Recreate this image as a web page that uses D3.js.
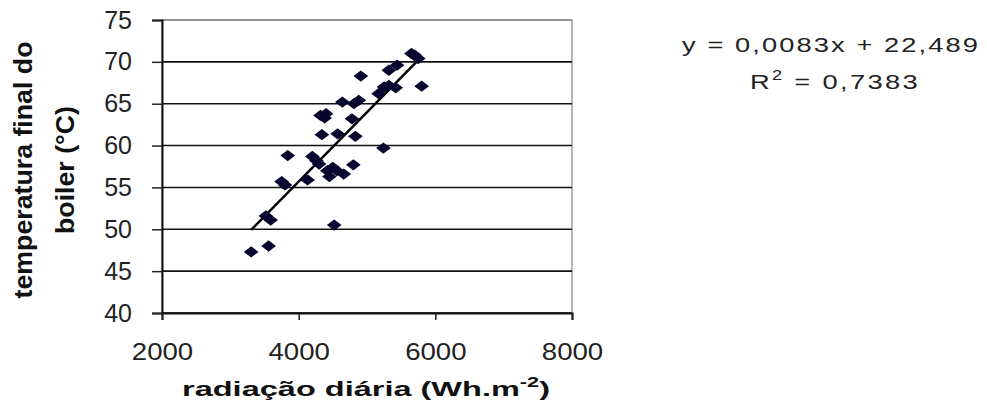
<!DOCTYPE html>
<html>
<head>
<meta charset="utf-8">
<script src="https://cdn.jsdelivr.net/npm/d3@7"></script>
<style>
  body { margin: 0; background: #fff; }
  svg text { font-family: Arial, "Liberation Sans", sans-serif; }
</style>
</head>
<body>
<div id="chart"></div>
<script>
// radiation (Wh.m-2) and final boiler temperature (°C)
var radiacao = [3305, 3560, 3590, 3520, 3750, 3800, 3840, 4130, 4200, 4260,
                4300, 4340, 4320, 4380, 4400, 4420, 4450, 4500, 4560, 4660,
                4520, 4570, 4800, 4830, 4640, 4780, 4810, 4880, 4910, 5240,
                5170, 5250, 5320, 5420, 5320, 5440, 5650, 5700, 5750, 5800];
var temperatura = [47.3, 48.0, 51.1, 51.6, 55.7, 55.3, 58.8, 55.9, 58.7, 58.2,
                   57.8, 61.3, 63.6, 63.3, 63.8, 57.0, 56.3, 57.4, 57.0, 56.6,
                   50.5, 61.4, 57.7, 61.1, 65.2, 63.2, 65.0, 65.4, 68.3, 59.7,
                   66.2, 67.0, 67.2, 66.9, 69.0, 69.6, 71.0, 70.8, 70.4, 67.1];
var xTicks = [2000, 4000, 6000, 8000];
var yTicks = [40, 45, 50, 55, 60, 65, 70, 75];
var slope = 0.0083, intercept = 22.489;
var eqLine1 = "y = 0,0083x + 22,489";
var r2Value = "0,7383";

var W = 987, H = 412;
var margin = {top: 20, left: 162},
    width = 410, height = 293;

var svg = d3.select("#chart").append("svg").attr("width", W).attr("height", H);
svg.append("rect").attr("width", W).attr("height", H).attr("fill", "#fff");

var g = svg.append("g").attr("transform", "translate(" + margin.left + "," + margin.top + ")");

var x = d3.scaleLinear().domain([2000, 8000]).range([0, width]);
var y = d3.scaleLinear().domain([40, 75]).range([height, 0]);

// plot area border (gray)
g.append("rect").attr("x", 0).attr("y", 0).attr("width", width).attr("height", height)
  .attr("fill", "none").attr("stroke", "#888").attr("stroke-width", 1.2);

// horizontal gridlines
g.selectAll("line.grid").data(yTicks).enter().append("line").attr("class", "grid")
  .attr("x1", 0).attr("x2", width)
  .attr("y1", function(d) { return y(d); }).attr("y2", function(d) { return y(d); })
  .attr("stroke", function(d) { return d == 75 ? "#888" : "#111"; }).attr("stroke-width", 1.6);

// axes
var yAxis = g.append("g").call(d3.axisLeft(y).tickValues(yTicks).tickSize(10).tickPadding(20));
var xAxis = g.append("g").attr("transform", "translate(0," + height + ")")
  .call(d3.axisBottom(x).tickValues(xTicks).tickFormat(d3.format("d")).tickSize(7).tickPadding(23));

[yAxis, xAxis].forEach(function(a) {
  a.select(".domain").attr("stroke", "#111").attr("stroke-width", 2);
  a.selectAll(".tick line").attr("stroke", "#222").attr("stroke-width", 1.5);
  a.selectAll(".tick text").attr("fill", "#222");
});
yAxis.selectAll(".tick text").attr("font-size", 25);
xAxis.selectAll(".tick text").attr("font-size", 24).attr("transform", "scale(1.15,1)");

// trend line
var xr = d3.extent(radiacao);
g.append("line")
  .attr("x1", x(xr[0])).attr("y1", y(slope * xr[0] + intercept))
  .attr("x2", x(xr[1])).attr("y2", y(slope * xr[1] + intercept))
  .attr("stroke", "#000").attr("stroke-width", 2.5);

// markers (diamonds)
var pts = radiacao.map(function(d, i) { return [d, temperatura[i]]; });
var sym = d3.symbol().type(d3.symbolSquare).size(64);
g.selectAll("path.pt").data(pts).enter().append("path").attr("class", "pt")
  .attr("d", sym)
  .attr("transform", function(d) {
    return "translate(" + x(d[0]) + "," + y(d[1]) + ") scale(1.3,1) rotate(45)";
  })
  .attr("fill", "#06062e");

// axis titles
svg.append("text").attr("x", 366).attr("y", 396).attr("text-anchor", "middle")
  .attr("font-size", 21).attr("font-weight", "bold").attr("fill", "#111")
  .attr("textLength", 368).attr("lengthAdjust", "spacingAndGlyphs")
  .html('radiação diária (Wh.m<tspan dy="-9" font-size="14">-2</tspan><tspan dy="9">)</tspan>');

var yt = svg.append("text").attr("transform", "translate(0,170) rotate(-90) scale(1,1.2)")
  .attr("text-anchor", "middle").attr("font-size", 22).attr("font-weight", "bold").attr("fill", "#111");
yt.append("tspan").attr("x", 0).attr("y", 27).attr("textLength", 257).attr("lengthAdjust", "spacingAndGlyphs")
  .text("temperatura final do");
yt.append("tspan").attr("x", 0).attr("y", 62).attr("textLength", 128).attr("lengthAdjust", "spacingAndGlyphs")
  .text("boiler (°C)");

// regression equation
svg.append("text").attr("transform", "translate(831,52) scale(1.3,1)").attr("text-anchor", "middle")
  .attr("font-size", 21).attr("letter-spacing", 1.6).attr("fill", "#222").text(eqLine1);
var r2 = svg.append("text").attr("transform", "translate(835,89) scale(1.3,1)").attr("text-anchor", "middle")
  .attr("font-size", 21).attr("letter-spacing", 1.8).attr("fill", "#222");
r2.append("tspan").text("R");
r2.append("tspan").attr("dy", -9).attr("font-size", 14).text("2");
r2.append("tspan").attr("dy", 9).text(" = " + r2Value);
</script>
</body>
</html>
